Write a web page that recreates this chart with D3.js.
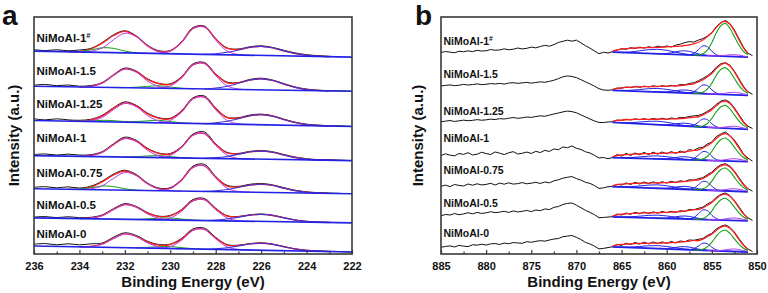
<!DOCTYPE html>
<html><head><meta charset="utf-8">
<script src="https://cdn.jsdelivr.net/npm/d3@7"></script>
<style>
body{margin:0;background:#fff}
svg{display:block}
text{font-family:"Liberation Sans",Arial,sans-serif;font-weight:bold;fill:#111}
</style>
</head><body>
<svg id="c" width="768" height="293"></svg>
<script>
// ---------------- DATA ----------------
const sampleNames = ["NiMoAl-1", "NiMoAl-1.5", "NiMoAl-1.25", "NiMoAl-1", "NiMoAl-0.75", "NiMoAl-0.5", "NiMoAl-0"];
const sampleSup = ["#", "", "", "", "", "", ""];

const aTicks = [236, 234, 232, 230, 228, 226, 224, 222];
const aMinorTicks = [235, 233, 231, 229, 227, 225, 223];
const bTicks = [885, 880, 875, 870, 865, 860, 855, 850];
const bMinorTicks = [882.5, 877.5, 872.5, 867.5, 862.5, 857.5, 852.5];

// Panel a (Mo 3d / S 2s): energy grid 236 -> 222 eV, 0.5 eV step
const aEnergy = d3.range(236, 221.99, -0.5);
// stacking offset (intensity at 222 eV) and background height at 236 eV
const aOffset = [196, 162, 127, 93, 60, 31, 2];
const aBgTilt = [6, 5, 6, 5, 5, 5, 6];
// raw spectra, relative to background line
const aRaw = [
  [1.5,0.8,1.8,1.0,2.0,3.8,9.8,17.8,22.0,17.2,8.0,2.8,3.2,12.2,26.5,28.2,16.0,6.8,6.0,8.4,9.6,8.2,5.6,3.2,1.6,0.9,0.4,0.2],
  [1.2,2.0,1.0,1.8,0.8,1.6,4.8,12.8,19.6,16.8,9.2,4.8,4.6,11.8,24.8,26.4,15.2,7.2,7.0,10.2,11.6,10.0,6.6,3.4,1.5,0.6,0.2,0.3,0],
  [1.6,0.8,2.0,1.2,1.0,2.2,6.4,14.2,20.2,17.0,9.4,5.0,4.8,12.4,25.6,27.6,15.8,6.8,6.6,9.4,10.6,9.2,6.0,3.2,1.4,0.7,0.3,0.4,0.1],
  [1.0,1.8,0.9,2.0,1.2,1.8,5.0,13.0,19.8,16.8,9.0,4.4,4.2,11.4,24.0,26.2,14.6,6.2,5.4,7.6,8.6,7.6,5.0,2.6,1.2,0.5,0.6,0.2,0],
  [1.4,2.2,1.2,2.4,1.4,3.4,8.6,15.8,19.8,15.8,7.4,2.6,3.2,11.6,25.0,27.0,15.0,6.4,5.6,7.8,8.8,7.6,5.0,2.6,1.2,0.6,0.3,0.2],
  [0.8,1.4,0.6,1.6,0.9,1.4,4.0,10.4,15.6,13.0,7.0,3.6,4.6,10.6,20.8,22.0,12.4,5.2,4.6,6.4,7.4,6.4,4.2,2.0,0.8,0.3,0.2,0],
  [1.8,2.6,1.6,2.8,2.0,3.2,4.2,10.2,14.8,12.4,6.8,3.8,4.4,10.4,20.0,21.0,12.0,5.0,4.6,6.4,7.4,6.4,4.2,2.0,0.9,0.4,0.3,0.2,0]
];
// fitted envelope (red)
const aFit = [
  [0,0,0,0,.5,3.2,9.1,17.1,21.4,16.7,7.4,2.1,2.8,11.6,25.5,27.4,15.4,6.3,5.5,7.8,9,7.8,5,2.5,.9,.3,0,0,0],
  [0,0,0,0,0,.8,4.2,12.2,18.7,16.3,8.7,4.5,4,11.2,23.8,25.5,14.6,6.5,6.7,9.6,11,9.6,6.2,3,1.1,.3,0,0,0],
  [0,0,0,0,.1,1.5,5.6,13.5,19.2,16.4,8.7,4.5,4.1,11.6,24.6,26.5,15,6.4,6.1,8.7,10,8.7,5.6,2.8,1,.3,0,0,0],
  [0,0,0,0,0,.8,4.2,12.2,18.6,16.1,8.4,4,3.6,10.7,22.9,24.6,13.8,5.6,4.9,7,8,7,4.5,2.2,.8,.2,0,0,0],
  [0,0,0,0,.4,2.5,7.8,14.9,19,15,6.7,1.9,2.6,10.8,23.8,25.5,14.3,5.7,5,7,8,7,4.5,2.2,.8,.2,0,0,0],
  [0,0,0,0,0,.6,3.3,9.6,14.7,12.3,6.4,3.2,4.2,9.9,19.7,20.8,11.7,4.8,4.3,6.1,7,6.1,3.9,1.9,.7,.2,0,0,0],
  [0,0,0,0,0,.6,3.1,9,13.7,11.5,6,3.1,4,9.5,18.8,19.8,11.2,4.6,4.3,6.1,7,6.1,3.9,1.9,.7,.2,0,0,0]
];
// Mo 3d3/2 component (~231.9 eV)
const aMo1 = [
  [0,0,0,0,0,.9,4.4,12.8,19.6,16.4,7.4,1.8,.2,0,0,0,0,0,0,0,0,0,0,0,0,0,0,0,0],
  [0,0,0,0,0,.8,4.2,12.2,18.6,15.6,7,1.7,.2,0,0,0,0,0,0,0,0,0,0,0,0,0,0,0,0],
  [0,0,0,0,0,.8,4.2,12.2,18.6,15.6,7,1.7,.2,0,0,0,0,0,0,0,0,0,0,0,0,0,0,0,0],
  [0,0,0,0,0,.8,4.2,12.2,18.6,15.6,7,1.7,.2,0,0,0,0,0,0,0,0,0,0,0,0,0,0,0,0],
  [0,0,0,0,0,.7,4,11.5,17.6,14.8,6.7,1.6,.2,0,0,0,0,0,0,0,0,0,0,0,0,0,0,0,0],
  [0,0,0,0,0,.6,3.3,9.6,14.7,12.3,5.6,1.4,.2,0,0,0,0,0,0,0,0,0,0,0,0,0,0,0,0],
  [0,0,0,0,0,.6,3.1,9,13.7,11.5,5.2,1.3,.1,0,0,0,0,0,0,0,0,0,0,0,0,0,0,0,0]
];
// Mo 3d5/2 component (~228.7 eV)
const aMo2 = [
  [0,0,0,0,0,0,0,0,0,0,0,.3,2.6,11.6,25.5,27.4,14.5,3.8,.5,0,0,0,0,0,0,0,0,0,0],
  [0,0,0,0,0,0,0,0,0,0,0,.3,2.4,10.8,23.8,25.5,13.5,3.5,.5,0,0,0,0,0,0,0,0,0,0],
  [0,0,0,0,0,0,0,0,0,0,0,.3,2.5,11.2,24.6,26.5,14,3.6,.5,0,0,0,0,0,0,0,0,0,0],
  [0,0,0,0,0,0,0,0,0,0,0,.3,2.3,10.4,22.9,24.6,13,3.4,.4,0,0,0,0,0,0,0,0,0,0],
  [0,0,0,0,0,0,0,0,0,0,0,.3,2.4,10.8,23.8,25.5,13.5,3.5,.5,0,0,0,0,0,0,0,0,0,0],
  [0,0,0,0,0,0,0,0,0,0,0,.2,2,8.8,19.4,20.8,11,2.9,.4,0,0,0,0,0,0,0,0,0,0],
  [0,0,0,0,0,0,0,0,0,0,0,.2,1.9,8.4,18.5,19.8,10.5,2.7,.4,0,0,0,0,0,0,0,0,0,0]
];
// S 2s component (~226 eV)
const aS2s = [
  [0,0,0,0,0,0,0,0,0,0,0,0,0,0,0,0,.9,2.5,5,7.8,9,7.8,5,2.5,.9,.3,0,0,0],
  [0,0,0,0,0,0,0,0,0,0,0,0,0,0,0,0,1.1,3,6.2,9.6,11,9.6,6.2,3,1.1,.3,0,0,0],
  [0,0,0,0,0,0,0,0,0,0,0,0,0,0,0,0,1,2.8,5.6,8.7,10,8.7,5.6,2.8,1,.3,0,0,0],
  [0,0,0,0,0,0,0,0,0,0,0,0,0,0,0,0,.8,2.2,4.5,7,8,7,4.5,2.2,.8,.2,0,0,0],
  [0,0,0,0,0,0,0,0,0,0,0,0,0,0,0,0,.8,2.2,4.5,7,8,7,4.5,2.2,.8,.2,0,0,0],
  [0,0,0,0,0,0,0,0,0,0,0,0,0,0,0,0,.7,1.9,3.9,6.1,7,6.1,3.9,1.9,.7,.2,0,0,0],
  [0,0,0,0,0,0,0,0,0,0,0,0,0,0,0,0,.7,1.9,3.9,6.1,7,6.1,3.9,1.9,.7,.2,0,0,0]
];
// minor (green) component
const aGreen = [
  [0,0,0,0,.5,2.3,4.7,4.3,1.8,.3,0,0,0,0,0,0,0,0,0,0,0,0,0,0,0,0,0,0,0],
  [0,0,0,0,0,0,0,0,.1,.7,1.7,2.5,1.4,.4,0,0,0,0,0,0,0,0,0,0,0,0,0,0,0],
  [0,0,0,0,.1,.7,1.4,1.3,.6,.8,1.7,2.5,1.4,.4,0,0,0,0,0,0,0,0,0,0,0,0,0,0,0],
  [0,0,0,0,0,0,0,0,0,.5,1.4,2,1.1,.3,0,0,0,0,0,0,0,0,0,0,0,0,0,0,0],
  [0,0,0,0,.4,1.8,3.8,3.4,1.4,.2,0,0,0,0,0,0,0,0,0,0,0,0,0,0,0,0,0,0,0],
  [0,0,0,0,0,0,0,0,0,0,.8,1.6,2,1.1,.3,0,0,0,0,0,0,0,0,0,0,0,0,0,0],
  [0,0,0,0,0,0,0,0,0,0,.8,1.6,2,1.1,.3,0,0,0,0,0,0,0,0,0,0,0,0,0,0]
];

// Panel b (Ni 2p): raw grid 885 -> 850.5 eV, fit grid 866 -> 851 eV, 0.5 eV step
const bEnergyRaw = d3.range(885, 850.49, -0.5);
const bEnergyFit = d3.range(866, 850.99, -0.5);
const bOffset = [196, 158, 124, 92, 62, 33, 2];
const bBgTilt = [5, 5, 7, 4, 5, 4, 5];
// raw spectra, relative to offset
const bRaw = [
  [4.7,5.6,5.0,4.4,5.9,5.4,6.3,5.5,6.8,6.1,6.4,7.6,6.9,7.2,8.3,7.4,7.9,9.1,8.2,8.8,10.0,9.3,10.6,11.8,10.9,12.4,14.6,15.8,16.9,15.9,17.0,14.2,11.4,9.0,6.2,3.4,4.9,4.1,
   5.5,7,8.5,7.8,9.5,8.6,10,9,10.4,9.3,11,10,11.2,10.2,12,13,14.5,15.5,15,17,18.5,21,24.5,30.5,34.5,36.5,33.5,27,18.5,10,4,1.5],
  [9.3,9.9,10.4,9.6,10.1,10.9,10.3,10.7,11.4,10.6,11.0,11.7,11.3,11.9,11.2,12.2,12.6,11.9,12.4,12.9,12.1,12.8,13.4,13.0,13.9,15.0,16.6,18.4,19.3,18.8,17.6,15.6,13.4,11.4,9.1,6.6,5.3,5.0,
   5.5,7.2,7,8.3,7.6,8.8,8,9.2,8.4,9.5,8.5,9.6,8.8,10,9.2,10.8,10.5,11.8,12.5,14.5,16.8,19.5,23,28,31.5,32.5,30,24,16.5,9,3.5,1],
  [7.7,8.3,8.9,8.0,8.6,9.3,8.7,9.1,9.8,9.2,9.6,10.3,9.9,10.8,10.4,11.2,11.9,11.1,11.6,12.4,12.0,12.9,13.6,13.1,14.3,15.4,16.4,17.5,18.3,17.8,16.6,14.5,12.5,10.4,8.5,7.0,6.9,7.5,
   7.6,9.4,9,10.3,9.4,10.6,9.7,10.8,9.6,11,10,11.2,10,11.5,10.7,12,11.8,13,13.5,14,15.5,18,21,25,28.3,29.5,27,21.5,14.8,8,3.2,1],
  [6.0,7.8,6.4,5.8,8.1,7.2,8.9,6.6,7.4,9.3,8.0,7.1,9.6,8.4,7.0,8.8,9.9,7.6,8.3,9.5,8.1,10.2,9.0,11.2,10.1,12.6,11.8,14.6,13.8,15.6,13.3,12.1,9.8,8.6,6.2,3.6,4.1,2.9,
   4,7,5.4,8.2,6,8.6,6.8,9.2,7,9.4,7.4,9.6,7.8,10,8.2,10.5,9,12,11,13.5,14.2,17.5,19.5,25,27.5,29.5,26,21.5,15,7.5,3.5,.5],
  [5.3,6.6,5.1,7.2,6.3,5.7,7.7,6.5,7.9,6.8,7.3,8.4,6.7,8.6,7.5,8.9,7.6,8.1,9.1,7.9,8.5,9.4,8.2,9.7,8.9,10.8,11.9,13.5,14.4,15.1,13.1,11.6,9.4,8.3,6.1,3.3,3.9,5.0,
   5.2,7.5,6.6,8.8,7.2,9.4,7.6,9.8,8,9.9,8.2,10,8.6,10.4,9,11,10,12,11.5,13,14,17,19.5,24,26.8,28,25.5,20.5,14,7.8,3,.5],
  [5.0,6.4,5.8,7.3,6.1,6.9,8.1,7.0,8.4,7.4,8.0,9.1,8.2,8.7,9.6,8.4,9.9,8.9,9.5,10.4,9.2,10.8,10.1,11.9,11.2,13.4,14.3,16.3,17.4,17.8,15.6,13.1,10.5,8.4,6.1,3.1,3.4,3.8,
   4.2,6.8,5.8,7.8,6.5,8.5,7,8.8,7.2,9,7.6,9.4,8,9.6,8.4,10.2,9.4,11.4,11,12.5,13.6,16.8,19,23.5,26.4,27.8,25.2,20.2,14,7.6,3,.5],
  [4.7,5.5,6.1,5.0,6.6,5.8,5.4,7.2,6.8,7.7,6.9,8.1,8.4,7.5,8.9,8.2,9.4,9.0,8.6,10.3,9.7,10.6,11.3,10.8,11.9,12.9,13.4,15.2,15.8,16.4,14.6,12.4,9.6,8.0,5.8,3.1,3.6,4.4,
   5.2,7.6,6.5,8.8,7.4,9.5,7.8,9.9,8,10,8.3,10.1,8.5,10.5,9,11,10.2,12,11.6,12.6,13.5,16.5,18.6,23,25.6,27,24.5,19.8,13.4,7.4,3,.5]
];
// fitted envelope (red), relative to background line
const bFit = [
  [1,2.5,3.3,4,4.5,5,5.3,5.6,5.9,6.2,6.5,6.8,7.2,7.6,8,8.6,9.3,10.2,11.2,13,15.5,19,23,28.5,33,34.7,32,25.5,17,9,3.5],
  [1,2.2,2.9,3.4,3.8,4.2,4.5,4.8,5,5.3,5.5,5.8,6.1,6.5,6.8,7.3,7.9,8.7,9.5,11.6,13.8,17,20.5,25.4,29.5,31,28.6,22.8,15.2,8,3.1],
  [1,2.2,2.9,3.4,3.8,4.2,4.5,4.8,5,5.3,5.5,5.8,6.1,6.5,6.8,7.3,7.9,8.7,9.5,10.1,12.1,14.8,17.9,22.2,25.7,27.1,25,19.9,13.3,7,2.7],
  [1,2.2,2.9,3.4,3.8,4.2,4.5,4.8,5,5.3,5.5,5.8,6.1,6.5,6.8,7.3,7.9,8.7,9.5,10.1,12.1,14.8,17.9,22.2,25.7,27.1,25,19.9,13.3,7,2.7],
  [1,2.2,2.9,3.4,3.8,4.2,4.5,4.8,5,5.3,5.5,5.8,6.1,6.5,6.8,7.3,7.9,8.7,9.5,9.8,11.6,14.3,17.3,21.4,24.8,26,24,19.1,12.8,6.8,2.6],
  [1,2.2,2.9,3.4,3.8,4.2,4.5,4.8,5,5.3,5.5,5.8,6.1,6.5,6.8,7.3,7.9,8.7,9.5,9.8,11.6,14.3,17.3,21.4,24.8,26,24,19.1,12.8,6.8,2.6],
  [1,2.2,2.9,3.4,3.8,4.2,4.5,4.8,5,5.3,5.5,5.8,6.1,6.5,6.8,7.3,7.9,8.7,9.5,9.4,11.2,13.7,16.6,20.5,23.8,25,23,18.4,12.2,6.5,2.5]
];
// Ni2+ main (green)
const bMain = [
  [0,0,0,0,0,0,0,0,0,0,0,0,0,0,0,0,0,0,0,.3,1.7,5.6,13.2,23.1,30.4,32.7,28.1,19.8,11.7,5.6,2.3],
  [0,0,0,0,0,0,0,0,0,0,0,0,0,0,0,0,0,0,0,.3,1.4,4.6,10.8,18.9,24.8,26.7,23,16.2,9.6,4.6,1.9],
  [0,0,0,0,0,0,0,0,0,0,0,0,0,0,0,0,0,0,0,.2,1.2,3.9,9.2,16.1,21.2,22.8,19.6,13.8,8.2,3.9,1.6],
  [0,0,0,0,0,0,0,0,0,0,0,0,0,0,0,0,0,0,0,.2,1.2,3.9,9.2,16.1,21.2,22.8,19.6,13.8,8.2,3.9,1.6],
  [0,0,0,0,0,0,0,0,0,0,0,0,0,0,0,0,0,0,0,.2,1.2,3.9,9.2,16.1,21.2,22.8,19.6,13.8,8.2,3.9,1.6],
  [0,0,0,0,0,0,0,0,0,0,0,0,0,0,0,0,0,0,0,.2,1.1,3.7,8.8,15.4,20.2,21.8,18.7,13.2,7.8,3.7,1.5],
  [0,0,0,0,0,0,0,0,0,0,0,0,0,0,0,0,0,0,0,.2,1.1,3.6,8.4,14.7,19.3,20.8,17.9,12.6,7.5,3.6,1.4]
];
// Ni3+ component (~855.8 eV, blue)
const bNi3 = [
  [0,0,0,0,0,0,0,0,0,0,0,0,0,0,0,0,0,.3,1.7,5.5,9.5,9,4.5,1.3,.2,0,0,0,0,0,0],
  [0,0,0,0,0,0,0,0,0,0,0,0,0,0,0,0,0,.3,1.5,5,8.6,8.1,4.1,1.1,.2,0,0,0,0,0,0],
  [0,0,0,0,0,0,0,0,0,0,0,0,0,0,0,0,0,.3,1.4,4.7,8.1,7.7,3.8,1.1,.2,0,0,0,0,0,0],
  [0,0,0,0,0,0,0,0,0,0,0,0,0,0,0,0,0,.3,1.5,5,8.6,8.1,4.1,1.1,.2,0,0,0,0,0,0],
  [0,0,0,0,0,0,0,0,0,0,0,0,0,0,0,0,0,.3,1.5,5,8.6,8.1,4.1,1.1,.2,0,0,0,0,0,0],
  [0,0,0,0,0,0,0,0,0,0,0,0,0,0,0,0,0,.3,1.7,5.5,9.5,9,4.5,1.3,.2,0,0,0,0,0,0],
  [0,0,0,0,0,0,0,0,0,0,0,0,0,0,0,0,0,.2,1.3,4.1,7.1,6.8,3.4,.9,.2,0,0,0,0,0,0]
];
// satellite (~861 eV, blue)
const bSat1 = [
  [.1,.1,.3,.5,.9,1.5,2.3,3.1,3.8,4.2,4.5,4.2,3.8,3.1,2.3,1.5,.9,.5,.3,.1,.1,0,0,0,0,0,0,0,0,0,0],
  [.05,.1,.2,.4,.7,1.2,1.8,2.4,2.9,3.3,3.5,3.3,2.9,2.4,1.8,1.2,.7,.4,.2,.1,.05,0,0,0,0,0,0,0,0,0,0],
  [.05,.1,.2,.4,.7,1.2,1.8,2.4,2.9,3.3,3.5,3.3,2.9,2.4,1.8,1.2,.7,.4,.2,.1,.05,0,0,0,0,0,0,0,0,0,0],
  [.04,.1,.2,.4,.6,1,1.5,2,2.5,2.8,3,2.8,2.5,2,1.5,1,.6,.4,.2,.1,.04,0,0,0,0,0,0,0,0,0,0],
  [.05,.1,.2,.4,.7,1.2,1.8,2.4,2.9,3.3,3.5,3.3,2.9,2.4,1.8,1.2,.7,.4,.2,.1,.05,0,0,0,0,0,0,0,0,0,0],
  [.04,.1,.2,.4,.6,1,1.5,2,2.5,2.8,3,2.8,2.5,2,1.5,1,.6,.4,.2,.1,.04,0,0,0,0,0,0,0,0,0,0],
  [.04,.1,.2,.4,.6,1,1.5,2,2.5,2.8,3,2.8,2.5,2,1.5,1,.6,.4,.2,.1,.04,0,0,0,0,0,0,0,0,0,0]
];
// satellite (~858 eV, blue)
const bSat2 = [
  [0,0,0,0,0,0,0,0,0,0,.1,.2,.7,1.5,2.6,3.6,4,3.6,2.6,1.5,.7,.2,.1,0,0,0,0,0,0,0,0],
  [0,0,0,0,0,0,0,0,0,0,.1,.2,.5,1.1,1.9,2.7,3,2.7,1.9,1.1,.5,.2,.1,0,0,0,0,0,0,0,0],
  [0,0,0,0,0,0,0,0,0,0,.1,.2,.5,1.1,1.9,2.7,3,2.7,1.9,1.1,.5,.2,.1,0,0,0,0,0,0,0,0],
  [0,0,0,0,0,0,0,0,0,0,.1,.2,.5,1.1,1.9,2.7,3,2.7,1.9,1.1,.5,.2,.1,0,0,0,0,0,0,0,0],
  [0,0,0,0,0,0,0,0,0,0,.1,.2,.5,1.1,1.9,2.7,3,2.7,1.9,1.1,.5,.2,.1,0,0,0,0,0,0,0,0],
  [0,0,0,0,0,0,0,0,0,0,.1,.2,.5,1.1,1.9,2.7,3,2.7,1.9,1.1,.5,.2,.1,0,0,0,0,0,0,0,0],
  [0,0,0,0,0,0,0,0,0,0,.1,.2,.5,1.1,1.9,2.7,3,2.7,1.9,1.1,.5,.2,.1,0,0,0,0,0,0,0,0]
];
// small component (~852.5 eV, violet)
const bMinor = [
  [0,0,0,0,0,0,0,0,0,0,0,0,0,0,0,0,0,0,0,0,0,0,.05,.1,.4,1,1.7,2,1.7,1,.4],
  [0,0,0,0,0,0,0,0,0,0,0,0,0,0,0,0,0,0,0,0,0,0,.05,.2,.5,1.3,2.1,2.5,2.1,1.3,.5],
  [0,0,0,0,0,0,0,0,0,0,0,0,0,0,0,0,0,0,0,0,0,0,.05,.2,.5,1.3,2.1,2.5,2.1,1.3,.5],
  [0,0,0,0,0,0,0,0,0,0,0,0,0,0,0,0,0,0,0,0,0,0,.05,.2,.5,1.3,2.1,2.5,2.1,1.3,.5],
  [0,0,0,0,0,0,0,0,0,0,0,0,0,0,0,0,0,0,0,0,0,0,.05,.2,.5,1.3,2.1,2.5,2.1,1.3,.5],
  [0,0,0,0,0,0,0,0,0,0,0,0,0,0,0,0,0,0,0,0,0,0,.05,.2,.5,1.3,2.1,2.5,2.1,1.3,.5],
  [0,0,0,0,0,0,0,0,0,0,0,0,0,0,0,0,0,0,0,0,0,0,.05,.2,.5,1.3,2.1,2.5,2.1,1.3,.5]
];

// ---------------- LAYOUT ----------------
const frameA = {left: 34, right: 352, top: 17, bottom: 254};
const frameB = {left: 441, right: 757, top: 17, bottom: 254};
const labelYA = [41.5, 75, 108, 142, 177, 209, 238];
const labelYB = [44.5, 78, 115, 141.5, 173.5, 206.5, 236.5];
const C = {raw: "#111111", fit: "#ff1f1f", violet: "#b63cf0", blue: "#2222e6", sblue: "#4433d4", green: "#16a016", frame: "#3a3a3a"};

const svg = d3.select("#c");

const xA = d3.scaleLinear().domain([236, 222]).range([frameA.left, frameA.right]);
const yA = d3.scaleLinear().domain([0, 236]).range([frameA.bottom, frameA.top]);
const xB = d3.scaleLinear().domain([885, 850]).range([frameB.left, frameB.right]);
const yB = d3.scaleLinear().domain([0, 236]).range([frameB.bottom, frameB.top]);

const smooth = d3.curveCatmullRom.alpha(0.5);

function trimmed(points, vals) {
  let a = vals.findIndex(v => v > 0);
  let b = vals.length - 1 - vals.slice().reverse().findIndex(v => v > 0);
  a = Math.max(0, a - 1); b = Math.min(vals.length - 1, b + 1);
  return points.slice(a, b + 1);
}
function path(g, pts, x, y, color, w, curve) {
  g.append("path")
    .attr("d", d3.line().x(d => x(d[0])).y(d => y(d[1])).curve(curve)(pts))
    .attr("fill", "none").attr("stroke", color).attr("stroke-width", w)
    .attr("stroke-linejoin", "round");
}

// ---------- Panel a ----------
const gA = svg.append("g");
sampleNames.forEach((name, s) => {
  const base = e => aOffset[s] + aBgTilt[s] * (e - 222) / (236 - 222);
  const rel = vals => vals.map((v, i) => [aEnergy[i], base(aEnergy[i]) + v]);
  path(gA, rel(aRaw[s]), xA, yA, C.raw, 1, smooth);
  path(gA, trimmed(rel(aFit[s]), aFit[s]), xA, yA, C.fit, 1.3, smooth);
  path(gA, trimmed(rel(aGreen[s]), aGreen[s]), xA, yA, C.green, 1, smooth);
  path(gA, trimmed(rel(aMo1[s]), aMo1[s]), xA, yA, C.violet, 1, smooth);
  path(gA, trimmed(rel(aMo2[s]), aMo2[s]), xA, yA, C.violet, 1, smooth);
  path(gA, trimmed(rel(aS2s[s]), aS2s[s]), xA, yA, C.sblue, 1.1, smooth);
  path(gA, [[aEnergy[0], base(aEnergy[0])], [aEnergy[aEnergy.length - 1], base(aEnergy[aEnergy.length - 1])]], xA, yA, C.blue, 1.6, d3.curveLinear);
});

// ---------- Panel b ----------
const gB = svg.append("g");
sampleNames.forEach((name, s) => {
  const base = e => bOffset[s] + bBgTilt[s] * (e - 851) / (866 - 851);
  const rel = vals => vals.map((v, i) => [bEnergyFit[i], base(bEnergyFit[i]) + v]);
  const raw = bRaw[s].map((v, i) => [bEnergyRaw[i], bOffset[s] + v]);
  path(gB, raw, xB, yB, C.raw, 1, d3.curveLinear);
  path(gB, [[bEnergyFit[0], base(bEnergyFit[0])], [bEnergyFit[bEnergyFit.length - 1], base(bEnergyFit[bEnergyFit.length - 1])]], xB, yB, C.blue, 1.8, d3.curveLinear);
  path(gB, trimmed(rel(bSat1[s]), bSat1[s]), xB, yB, C.blue, 1, smooth);
  path(gB, trimmed(rel(bSat2[s]), bSat2[s]), xB, yB, C.blue, 1, smooth);
  path(gB, trimmed(rel(bNi3[s]), bNi3[s]), xB, yB, C.blue, 1, smooth);
  path(gB, trimmed(rel(bMinor[s]), bMinor[s]), xB, yB, C.violet, 1, smooth);
  path(gB, rel(bFit[s]), xB, yB, C.fit, 1.3, smooth);
  path(gB, trimmed(rel(bMain[s]), bMain[s]), xB, yB, C.green, 1.1, smooth);
});

// ---------- Frames, axes, labels ----------
function frameAxes(fr, x, ticks, minor, letter, letterX, sLabelY, labelSize, yTitleX) {
  const g = svg.append("g");
  g.append("rect").attr("x", fr.left).attr("y", fr.top)
    .attr("width", fr.right - fr.left).attr("height", fr.bottom - fr.top)
    .attr("fill", "none").attr("stroke", C.frame).attr("stroke-width", 1.6);
  const ax = g.append("g").attr("transform", `translate(0,${fr.bottom})`)
    .call(d3.axisBottom(x).tickValues(ticks).tickSize(-4).tickPadding(8).tickFormat(d3.format("d")));
  ax.select(".domain").remove();
  ax.selectAll(".tick line").attr("stroke", C.frame).attr("stroke-width", 1.2);
  ax.selectAll("text").attr("font-size", 11).attr("font-family", "Liberation Sans, Arial, sans-serif").attr("font-weight", "bold").attr("fill", "#111");
  const mx = g.append("g").attr("transform", `translate(0,${fr.bottom})`)
    .call(d3.axisBottom(x).tickValues(minor).tickSize(-2.5).tickFormat(""));
  mx.select(".domain").remove();
  mx.selectAll(".tick line").attr("stroke", C.frame).attr("stroke-width", 1.2);

  const cx = (fr.left + fr.right) / 2;
  g.append("text").attr("x", cx).attr("y", 287).attr("text-anchor", "middle")
    .attr("font-size", 15).text("Binding Energy (eV)");
  g.append("text").attr("transform", `translate(${yTitleX},${(fr.top + fr.bottom) / 2})rotate(-90)`)
    .attr("text-anchor", "middle").attr("font-size", 15).text("Intensity (a.u.)");
  g.append("text").attr("x", letterX).attr("y", 25).attr("font-size", 28).text(letter);

  sampleNames.forEach((name, s) => {
    const t = g.append("text").attr("x", fr.left + 2.5).attr("y", sLabelY[s]).attr("font-size", labelSize).text(name);
    if (sampleSup[s]) t.append("tspan").attr("dy", -4).attr("font-size", labelSize * 0.65).text(sampleSup[s]);
  });
}
frameAxes(frameA, xA, aTicks, aMinorTicks, "a", 2, labelYA, 11.5, 19);
frameAxes(frameB, xB, bTicks, bMinorTicks, "b", 415, labelYB, 10.5, 423);
</script>
</body></html>
